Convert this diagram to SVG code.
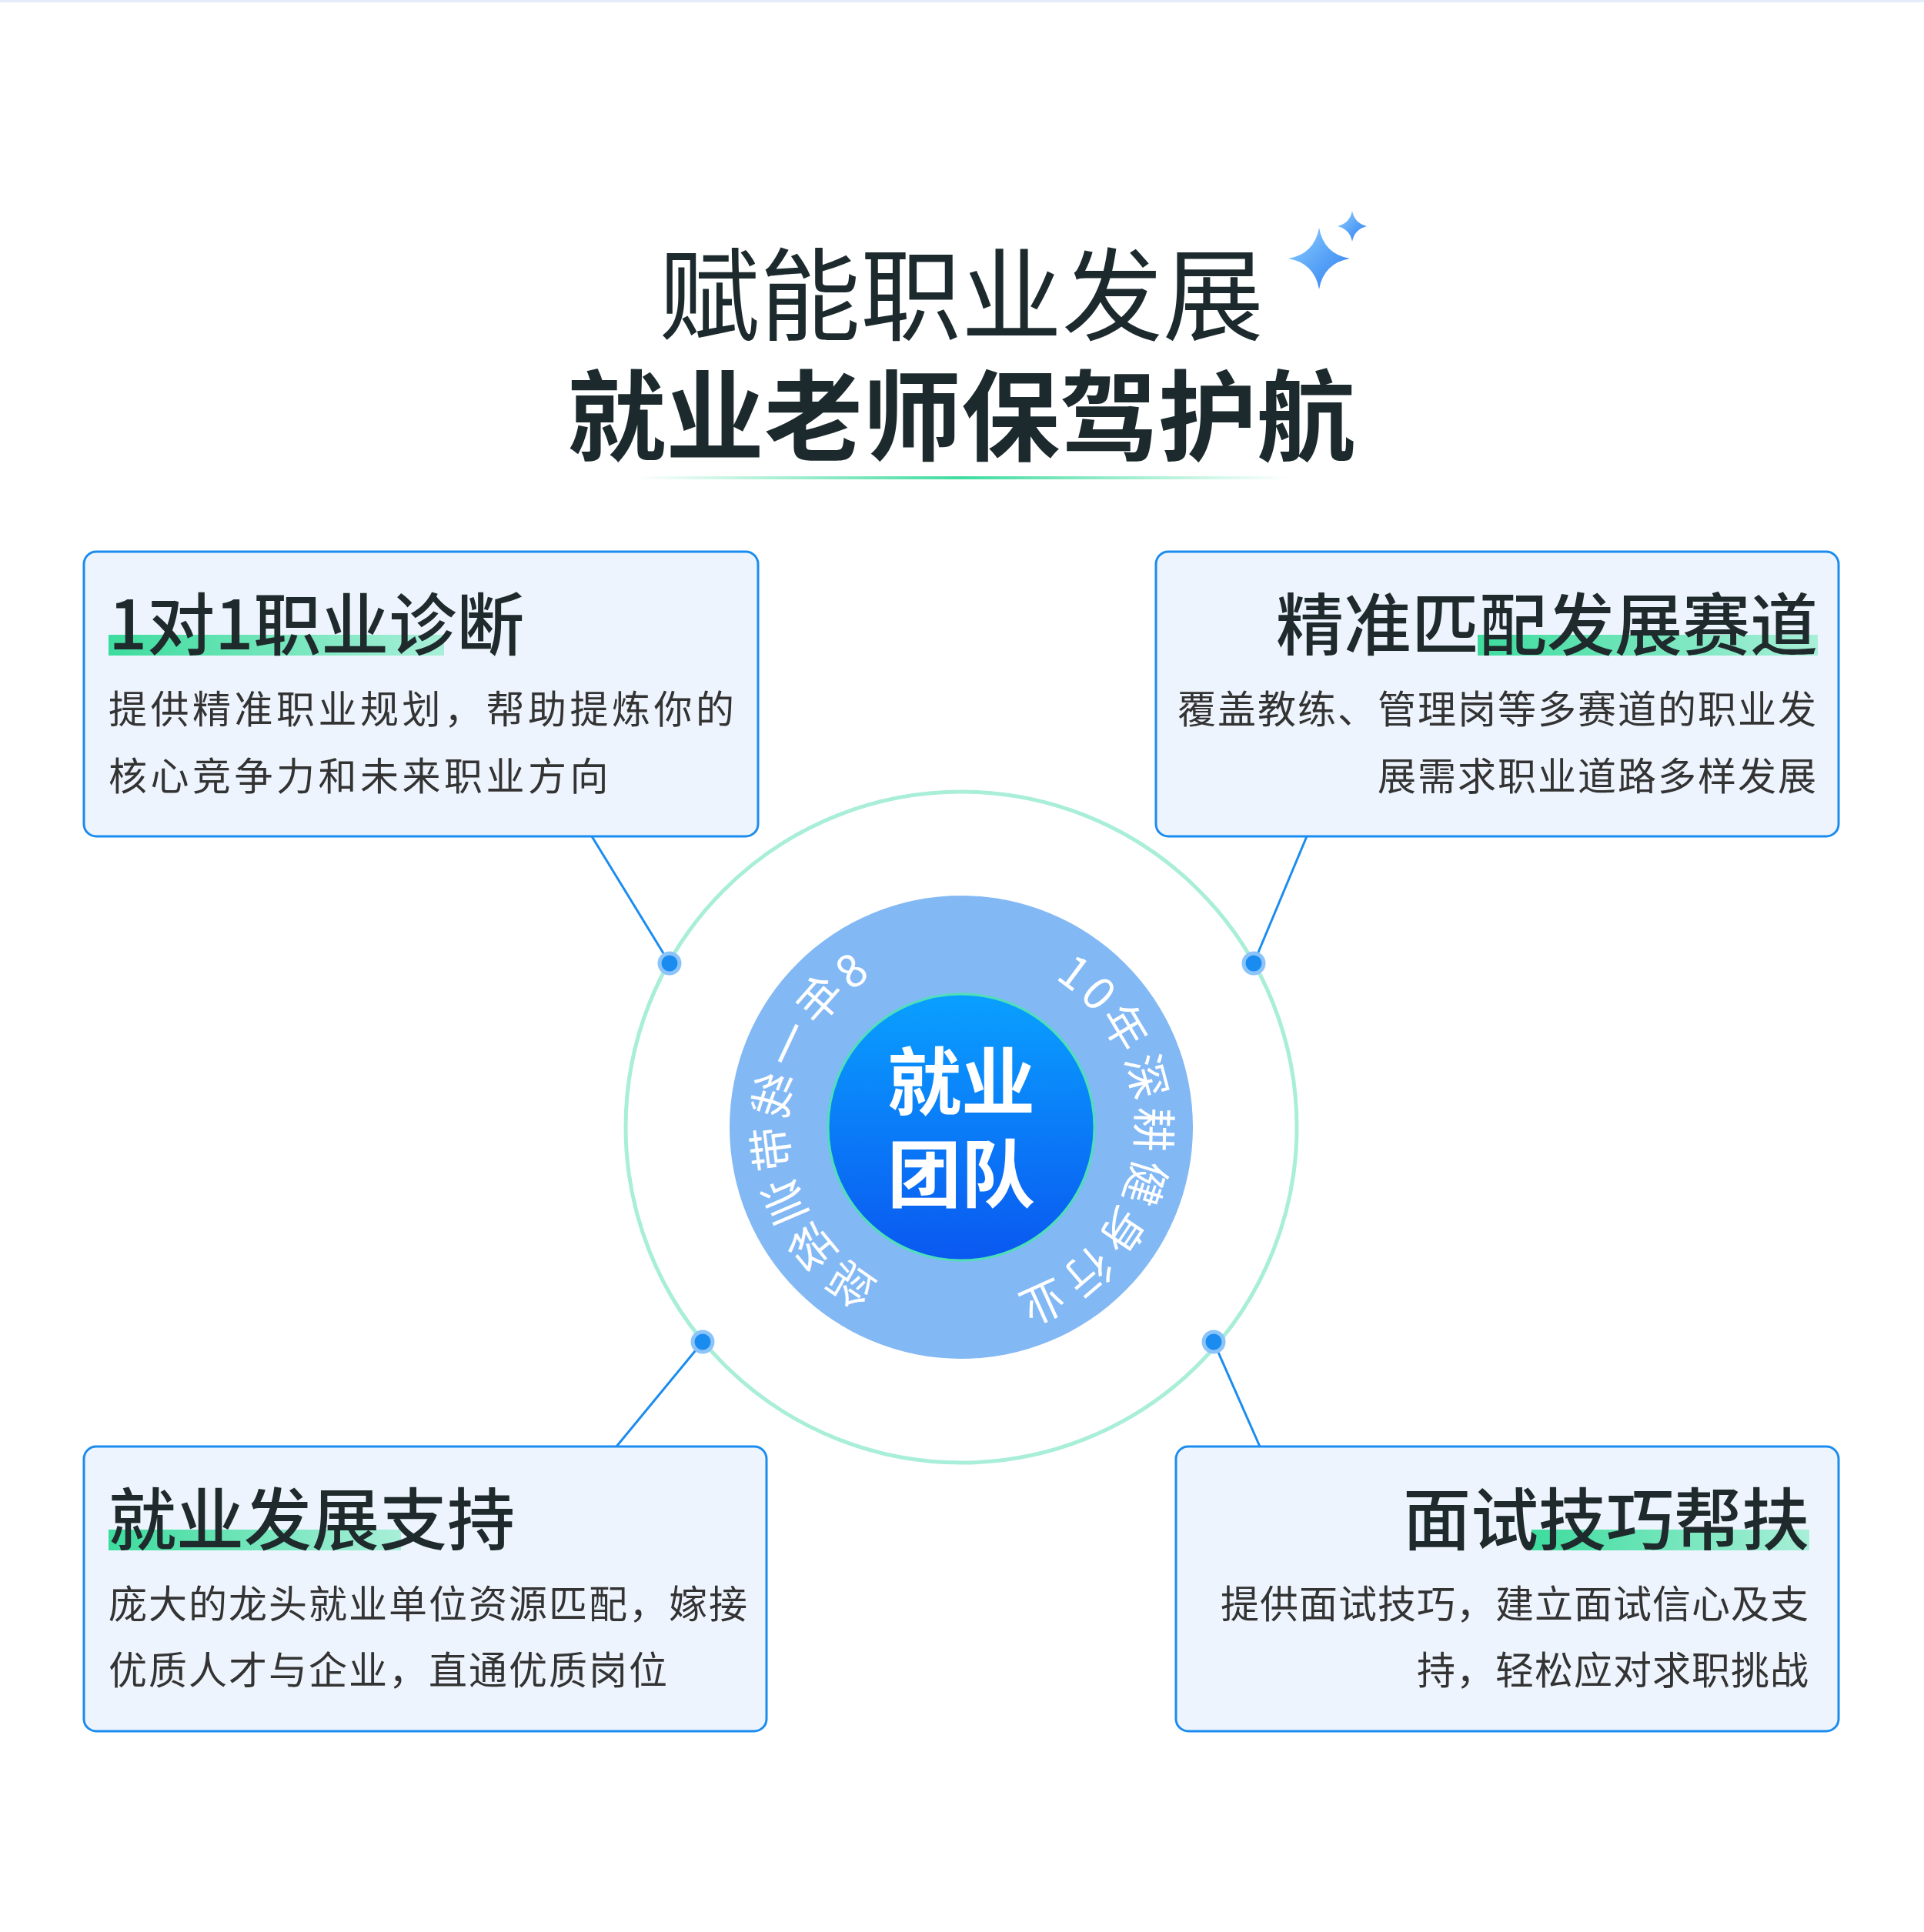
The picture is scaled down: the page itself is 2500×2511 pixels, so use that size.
<svg xmlns="http://www.w3.org/2000/svg" width="2500" height="2511" viewBox="0 0 2500 2511">
<defs>
<style>
.box{fill:#eef4fd;stroke:#1a8cf0;stroke-width:3}
.t{font-family:"Noto Sans CJK SC",sans-serif;fill:#1f2a2c;font-weight:500;font-size:88px}
.d{font-family:"Noto Sans CJK SC",sans-serif;fill:#333;font-size:50px;letter-spacing:3px}
.hl{fill:url(#hg)}
.ln{stroke:#1a8cf0;stroke-width:3}
.dot{fill:#1a8cf0;stroke:#8cc4fa;stroke-width:5}
.arc{font-family:"Noto Sans CJK SC",sans-serif;fill:#fff;font-size:58px;letter-spacing:6px}
</style>
<linearGradient id="hg" x1="0" x2="1"><stop offset="0" stop-color="#3ddc9e"/><stop offset="1" stop-color="#a8efd8"/></linearGradient>
<linearGradient id="ul" x1="0" x2="1"><stop offset="0" stop-color="#3ddc9e" stop-opacity="0"/><stop offset="0.5" stop-color="#3ddc9e"/><stop offset="1" stop-color="#3ddc9e" stop-opacity="0"/></linearGradient>
<linearGradient id="cg" x1="0" y1="0" x2="0" y2="1"><stop offset="0" stop-color="#0aa0ff"/><stop offset="1" stop-color="#0a58f0"/></linearGradient>
<linearGradient id="sp" x1="0" y1="0" x2="1" y2="1"><stop offset="0" stop-color="#8fd0ff"/><stop offset="1" stop-color="#2a7cf0"/></linearGradient>
<path id="la" d="M1366,1270 A228,228 0 0 1 1365,1661"/>
<path id="ra" d="M1370,1272 A228,228 0 0 1 1209,1690"/>
</defs>
<rect width="2500" height="2511" fill="#fff"/>
<rect width="2500" height="3" fill="#e3eefa"/>
<g id="title">
<text x="1249" y="432" text-anchor="middle" font-family="Noto Sans CJK SC,sans-serif" font-size="131" fill="#1c2a2e">赋能职业发展</text>
<text x="1249" y="589" text-anchor="middle" font-family="Noto Sans CJK SC,sans-serif" font-weight="bold" font-size="128" fill="#1c2a2e">就业老师保驾护航</text>
<rect x="825" y="619" width="850" height="4" fill="url(#ul)"/>
<path d="M1714,296 Q1720,330 1754,336 Q1720,342 1714,376 Q1708,342 1674,336 Q1708,330 1714,296Z" fill="url(#sp)"/>
<path d="M1757,274 Q1760,290 1776,294 Q1760,298 1757,314 Q1754,298 1738,294 Q1754,290 1757,274Z" fill="url(#sp)"/>
</g>
<g id="connectors">
<line class="ln" x1="769" y1="1087" x2="870" y2="1252"/>
<line class="ln" x1="1698" y1="1087" x2="1629" y2="1252"/>
<line class="ln" x1="801" y1="1880" x2="913" y2="1744"/>
<line class="ln" x1="1637" y1="1880" x2="1577" y2="1744"/>
</g>
<g id="center">
<circle cx="1249" cy="1465" r="436" fill="none" stroke="#a8eed8" stroke-width="5"/>
<circle cx="1249" cy="1465" r="301" fill="#82b8f4"/>
<circle cx="1249" cy="1465" r="173" fill="url(#cg)" stroke="#4fe0b8" stroke-width="3"/>
<text x="1249" y="1441" text-anchor="middle" font-family="Noto Sans CJK SC,sans-serif" font-weight="bold" font-size="96" fill="#fff">就业</text>
<text x="1249" y="1561" text-anchor="middle" font-family="Noto Sans CJK SC,sans-serif" font-weight="bold" font-size="96" fill="#fff">团队</text>
<g transform="translate(2498,0) scale(-1,1)"><text class="arc"><textPath href="#la">8年一线带训经验</textPath></text></g>
<text class="arc"><textPath href="#ra">10年深耕健身行业</textPath></text>
<circle class="dot" cx="870" cy="1252" r="13"/>
<circle class="dot" cx="1629" cy="1252" r="13"/>
<circle class="dot" cx="913" cy="1744" r="13"/>
<circle class="dot" cx="1577" cy="1744" r="13"/>
</g>
<g id="n1">
<rect class="box" x="109" y="717" width="876" height="370" rx="16"/>
<rect class="hl" x="141" y="825" width="436" height="27"/>
<text class="t" x="141" y="844">1对1职业诊断</text>
<text class="d" x="141" y="940" style="letter-spacing:4.5px">提供精准职业规划，帮助提炼你的</text>
<text class="d" x="141" y="1027" style="letter-spacing:4.5px">核心竞争力和未来职业方向</text>
</g>
<g id="n2">
<rect class="box" x="1502" y="717" width="887" height="370" rx="16"/>
<rect class="hl" x="1920" y="825" width="442" height="27"/>
<text class="t" x="2362" y="844" text-anchor="end">精准匹配发展赛道</text>
<text class="d" x="2362" y="940" text-anchor="end" style="letter-spacing:2px">覆盖教练、管理岗等多赛道的职业发</text>
<text class="d" x="2362" y="1027" text-anchor="end" style="letter-spacing:2px">展需求职业道路多样发展</text>
</g>
<g id="n3">
<rect class="box" x="109" y="1880" width="887" height="370" rx="16"/>
<rect class="hl" x="141" y="1988" width="380" height="27"/>
<text class="t" x="141" y="2007">就业发展支持</text>
<text class="d" x="141" y="2103" style="letter-spacing:2px">庞大的龙头就业单位资源匹配，嫁接</text>
<text class="d" x="141" y="2189" style="letter-spacing:2px">优质人才与企业，直通优质岗位</text>
</g>
<g id="n4">
<rect class="box" x="1528" y="1880" width="861" height="370" rx="16"/>
<rect class="hl" x="1990" y="1988" width="361" height="27"/>
<text class="t" x="2351" y="2007" text-anchor="end">面试技巧帮扶</text>
<text class="d" x="2351" y="2103" text-anchor="end" style="letter-spacing:1px">提供面试技巧，建立面试信心及支</text>
<text class="d" x="2351" y="2189" text-anchor="end" style="letter-spacing:1px">持，轻松应对求职挑战</text>
</g>
</svg>
